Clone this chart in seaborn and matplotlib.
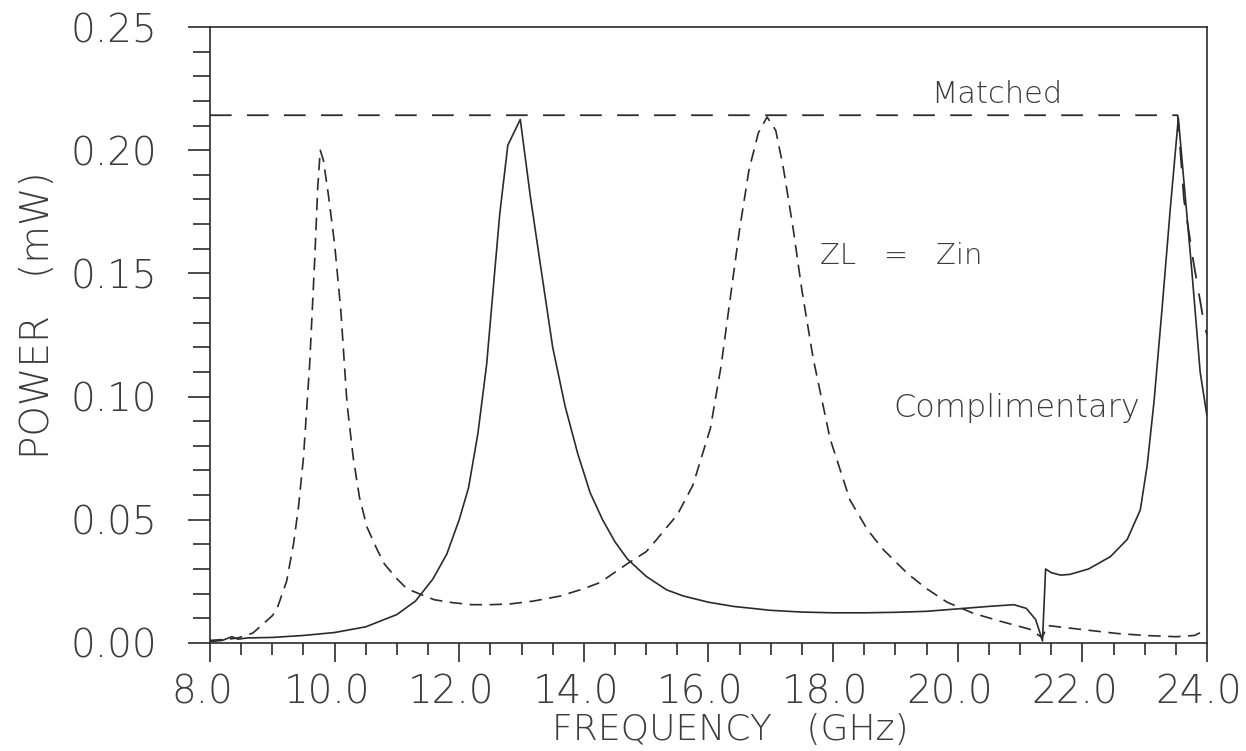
import numpy as np
import pandas as pd
import matplotlib
matplotlib.use("Agg")
import matplotlib.pyplot as plt
import matplotlib.transforms as mtransforms
from matplotlib.ticker import MultipleLocator
import seaborn as sns

# Data (power in mW, frequency in GHz)
comp_freq = [8.0, 8.2, 8.35, 8.45, 8.6, 9.0, 9.5, 10.0, 10.5, 11.0, 11.3, 11.58, 11.8,
             12.0, 12.15, 12.3, 12.44, 12.55, 12.65, 12.78, 12.98, 13.14, 13.30, 13.5,
             13.7, 13.9, 14.1, 14.3, 14.5, 14.7, 15.0, 15.33, 15.6, 16.0, 16.4, 17.0, 17.5,
             18.0, 18.5, 19.0, 19.5, 20.0, 20.5, 20.9, 21.1, 21.25, 21.32, 21.36, 21.41,
             21.5, 21.65, 21.8, 22.1, 22.45, 22.72, 22.93, 23.04, 23.15, 23.28, 23.41,
             23.54, 23.62, 23.76, 23.89, 24.0]
comp_power = [0.0005, 0.001, 0.0025, 0.0015, 0.002, 0.0022, 0.003, 0.0042, 0.0065, 0.0115,
              0.017, 0.026, 0.036, 0.050, 0.063, 0.085, 0.113, 0.145, 0.174, 0.202, 0.2125,
              0.1815, 0.154, 0.120, 0.096, 0.077, 0.061, 0.050, 0.041, 0.034, 0.027, 0.0215,
              0.019, 0.0165, 0.0148, 0.0132, 0.0125, 0.0122, 0.0122, 0.0124, 0.0128, 0.0138,
              0.0148, 0.0155, 0.014, 0.0095, 0.004, 0.0008, 0.030, 0.0285, 0.0275, 0.0278,
              0.030, 0.035, 0.042, 0.054, 0.072, 0.098, 0.136, 0.176, 0.213, 0.190, 0.150,
              0.110, 0.092]

zin_freq = [8.0, 8.3, 8.45, 8.69, 9.0, 9.07, 9.23, 9.34, 9.42, 9.5, 9.6, 9.68, 9.73, 9.77,
            9.82, 9.9, 10.0, 10.1, 10.2, 10.3, 10.4, 10.52, 10.68, 10.8, 11.0, 11.16, 11.4,
            11.6, 11.9, 12.2, 12.5, 12.82, 13.2, 13.62, 14.0, 14.26, 14.69, 15.0, 15.17,
            15.3, 15.5, 15.75, 16.03, 16.2, 16.35, 16.5, 16.65, 16.8, 16.94, 17.08, 17.2,
            17.36, 17.5, 17.68, 17.95, 18.27, 18.55, 18.8, 19.2, 19.5, 19.83, 20.25, 20.68,
            21.16, 21.35, 21.45, 22.0, 22.56, 23.0, 23.5, 23.8, 24.0]
zin_power = [0.001, 0.0015, 0.002, 0.004, 0.011, 0.0134, 0.025, 0.040, 0.055, 0.075, 0.113,
             0.155, 0.185, 0.200, 0.196, 0.182, 0.162, 0.135, 0.097, 0.075, 0.059, 0.047,
             0.038, 0.032, 0.026, 0.022, 0.0195, 0.0175, 0.0163, 0.0155, 0.0155, 0.0158,
             0.017, 0.019, 0.022, 0.0245, 0.032, 0.037, 0.042, 0.046, 0.052, 0.064, 0.087,
             0.112, 0.140, 0.168, 0.192, 0.207, 0.2135, 0.208, 0.193, 0.168, 0.143, 0.1155,
             0.083, 0.058, 0.046, 0.038, 0.028, 0.022, 0.0165, 0.012, 0.0088, 0.0055, 0.0022,
             0.007, 0.0054, 0.0038, 0.003, 0.0025, 0.003, 0.0055]

matched_freq = [8.0, 23.53, 23.63, 23.78, 23.95, 24.0]
matched_power = [0.2142, 0.2142, 0.180, 0.155, 0.130, 0.125]

x_ticks = [8.0, 10.0, 12.0, 14.0, 16.0, 18.0, 20.0, 22.0, 24.0]
x_ticklabels = ["8.0", "10.0", "12.0", "14.0", "16.0", "18.0", "20.0", "22.0", "24.0"]
y_ticks = [0.00, 0.05, 0.10, 0.15, 0.20, 0.25]
y_ticklabels = ["0.00", "0.05", "0.10", "0.15", "0.20", "0.25"]

sns.set_theme(style="ticks")
plt.rcParams["font.family"] = ["DejaVu Sans"]

ink = "#2b2b2b"
txt = "#3c3c3c"

fig = plt.figure(figsize=(12.46, 7.51), dpi=100)
ax = fig.add_axes([0.1685, 0.144, 0.8002, 0.820])

sns.lineplot(x=comp_freq, y=comp_power, ax=ax, color=ink, linewidth=1.2,
             sort=False, estimator=None)
sns.lineplot(x=zin_freq, y=zin_power, ax=ax, color=ink, linewidth=1.2,
             linestyle=(0, (7.5, 4.5)), sort=False, estimator=None)
sns.lineplot(x=matched_freq, y=matched_power, ax=ax, color=ink, linewidth=1.3,
             linestyle=(0, (12, 8.5)), sort=False, estimator=None)

ax.set_xlim(8, 24)
ax.set_ylim(0, 0.25)
ax.set_xticks(x_ticks)
ax.set_xticklabels(x_ticklabels, fontsize=28, color=txt, fontweight="light")
ax.set_yticks(y_ticks)
ax.set_yticklabels(y_ticklabels, fontsize=28, color=txt, fontweight="light")
ax.xaxis.set_minor_locator(MultipleLocator(0.5))
ax.yaxis.set_minor_locator(MultipleLocator(0.01))

ax.tick_params(axis="x", which="major", direction="out", length=14, width=1.2,
               color=ink, pad=8)
ax.tick_params(axis="x", which="minor", direction="out", length=8.5, width=1.2, color=ink)
ax.tick_params(axis="y", which="major", direction="out", length=16, width=1.2,
               color=ink, pad=22)
ax.tick_params(axis="y", which="minor", direction="out", length=12, width=1.2, color=ink)

# x tick labels sit a little left of their ticks in the scan
shift = mtransforms.ScaledTranslation(-8 / 100, 0, fig.dpi_scale_trans)
for lab in ax.get_xticklabels():
    lab.set_transform(lab.get_transform() + shift)

for side in ["left", "right", "top", "bottom"]:
    ax.spines[side].set_visible(True)
    ax.spines[side].set_color(ink)
    ax.spines[side].set_linewidth(1.2)

ax.set_xlabel("FREQUENCY   (GHz)", fontsize=26, color=txt, fontweight="light")
ax.set_ylabel("POWER   (mW)", fontsize=28, color=txt, fontweight="light")
ax.xaxis.set_label_coords(0.522, -0.114)
ax.yaxis.set_label_coords(-0.153, 0.532)

ax.text(20.63, 0.219, "Matched", fontsize=22, color=txt, ha="center", va="baseline",
        fontweight="light")
ax.text(17.79, 0.154, "ZL   =   Zin", fontsize=21, color=txt, ha="left", va="baseline",
        fontweight="light")
ax.text(18.96, 0.0917, "Complimentary", fontsize=23, color=txt, ha="left", va="baseline",
        fontweight="light")

fig.savefig("out.png", dpi=100, facecolor="white")
